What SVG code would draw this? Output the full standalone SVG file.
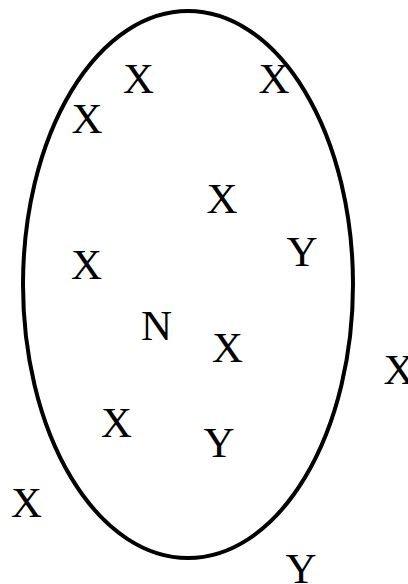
<svg xmlns="http://www.w3.org/2000/svg" width="408" height="584" viewBox="0 0 408 584">
<style>
text{font-family:"Liberation Serif","Times New Roman",serif;font-size:43px;fill:#000;text-anchor:middle}
.e{fill:none;stroke:#000;stroke-width:4}
</style>
<rect width="408" height="584" fill="#fff"/>
<g id="set"><ellipse class="e" cx="188" cy="284.5" rx="165" ry="273.5"/></g>
<g id="connectors"></g>
<g id="n1"><text x="138.5" y="93">X</text></g>
<g id="n2"><text x="274" y="93">X</text></g>
<g id="n3"><text x="87" y="133">X</text></g>
<g id="n4"><text x="222" y="213">X</text></g>
<g id="n5"><text x="302" y="266">Y</text></g>
<g id="n6"><text x="86.5" y="279">X</text></g>
<g id="n7"><text x="156.5" y="340">N</text></g>
<g id="n8"><text x="227.5" y="362">X</text></g>
<g id="n9"><text x="399" y="384">X</text></g>
<g id="n10"><text x="116.5" y="437">X</text></g>
<g id="n11"><text x="219" y="457">Y</text></g>
<g id="n12"><text x="26.5" y="517">X</text></g>
<g id="n13"><text x="301" y="583">Y</text></g>
</svg>
